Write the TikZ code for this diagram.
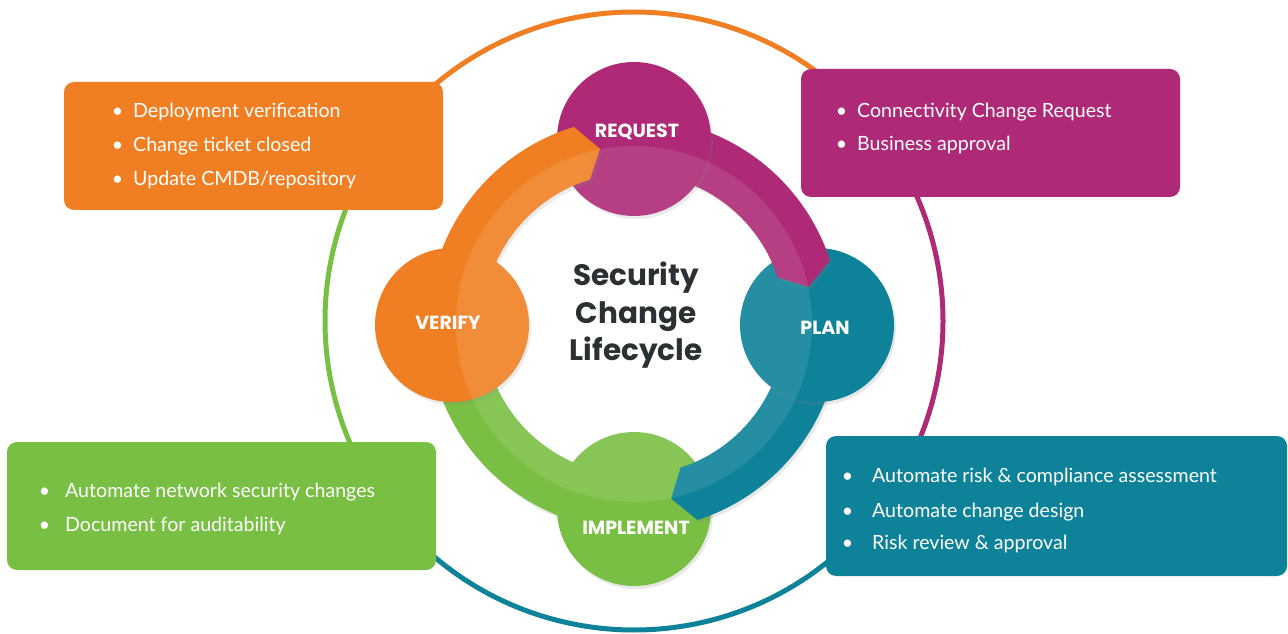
\documentclass[tikz,border=0pt]{standalone}
\usepackage{fontspec}
\setmainfont{Lato}
\newfontfamily\headfont{Poppins}
\usetikzlibrary{shadows}

\definecolor{cOrange}{HTML}{F07F23}
\definecolor{cMagenta}{HTML}{AE2A76}
\definecolor{cTeal}{HTML}{0E8299}
\definecolor{cGreen}{HTML}{79BF43}
\definecolor{cTitle}{HTML}{2B3033}

% bullet hung to the left of a line, #1 = gap to the text
\newcommand\itm[1]{\makebox[0pt][r]{\textbullet\hspace{#1pt}}}

% curved band of the cycle, centred on the scope origin:
% #1 colour, #2 start angle, #3 end angle, #4 angle of the chevron tip
\newcommand\cycleband[4]{%
  \fill[#1, softshadow] (#2:206) arc[start angle=#2, end angle=#3, radius=206]
    -- (#4:178.5) -- (#3:151) arc[start angle=#3, end angle=#2, radius=151] -- cycle;}

\begin{document}
\begin{tikzpicture}[x=1pt, y=1pt,
  ring/.style={line width=5pt},
  softshadow/.style={drop shadow={opacity=0.18, shadow xshift=2pt, shadow yshift=-3pt}},
  infobox/.style={rounded corners=10pt, inner sep=0pt},
  stage/.style={circle, minimum size=154pt, inner sep=0pt, softshadow},
  stagelabel/.style={text=white, anchor=base, inner sep=0pt, font=\headfont\bfseries\fontsize{19}{19}\selectfont},
  titleline/.style={text=cTitle, anchor=base, inner sep=0pt, font=\headfont\bfseries\fontsize{29.5}{29.5}\selectfont},
  boxline/.style={text=white, anchor=base west, inner sep=0pt, font=\fontsize{19.6}{19.6}\selectfont},
]
\useasboundingbox (0,0) rectangle (1288,633);

% outer ring, one colour per quarter
\begin{scope}[shift={(634,312)}]
  \draw[ring, cOrange]  (45:309)   arc[start angle=45,   end angle=135,  radius=309];
  \draw[ring, cMagenta] (-45:309)  arc[start angle=-45,  end angle=45,   radius=309];
  \draw[ring, cTeal]    (-135:309) arc[start angle=-135, end angle=-45,  radius=309];
  \draw[ring, cGreen]   (135:309)  arc[start angle=135,  end angle=225,  radius=309];
\end{scope}

% information boxes
\node[infobox, fill=cOrange,  minimum width=379, minimum height=128] (verifybox)  at (253.5,487) {};
\node[infobox, fill=cMagenta, minimum width=379, minimum height=128] (requestbox) at (990.5,500) {};
\node[infobox, fill=cGreen,   minimum width=429, minimum height=128] (implbox)    at (221.5,127) {};
\node[infobox, fill=cTeal,    minimum width=461, minimum height=140] (planbox)    at (1056.5,127) {};

% cycle: bands and stage circles, stacked so each band tip lies on the next stage
\begin{scope}[shift={(634,309)}]
  \fill[cGreen, softshadow] (-90:206) arc[start angle=-90, end angle=-180, radius=206]
    -- (180:151) arc[start angle=180, end angle=270, radius=151] -- cycle;
\end{scope}
\node[stage, fill=cGreen] (implement) at (634,124) {};
\begin{scope}[shift={(634,309)}]
  \cycleband{cTeal}{0}{-72}{-78}
\end{scope}
\node[stage, fill=cTeal] (plan) at (817,308) {};
\begin{scope}[shift={(634,309)}]
  \cycleband{cMagenta}{90}{18}{12}
\end{scope}
\node[stage, fill=cMagenta] (request) at (634,494) {};
\begin{scope}[shift={(634,309)}]
  \cycleband{cOrange}{180}{107}{101}
\end{scope}
\node[stage, fill=cOrange] (verify) at (452,308) {};

% light sheen over the inner half of the cycle
\fill[white, opacity=0.1] (634,309) circle[radius=178];

% stage labels
\node[stagelabel] (requestlabel)   at (637,495) {REQUEST};
\node[stagelabel] (planlabel)      at (825,299) {PLAN};
\node[stagelabel] (implementlabel) at (636,99)  {IMPLEMENT};
\node[stagelabel] (verifylabel)    at (448,304) {VERIFY};

% centre title
\node[titleline] (title1) at (636,348) {Security};
\node[titleline] (title2) at (636,310) {Change};
\node[titleline] (title3) at (636,273) {Lifecycle};

% box contents
\node[boxline] (v1) at (133,515) {\itm{10}Deployment verification};
\node[boxline] (v2) at (133,481) {\itm{10}Change ticket closed};
\node[boxline] (v3) at (133,447) {\itm{10}Update CMDB/repository};

\node[boxline] (r1) at (857,515) {\itm{10}Connectivity Change Request};
\node[boxline] (r2) at (857,482) {\itm{10}Business approval};

\node[boxline] (i1) at (65,136) {\itm{15}Automate network security changes};
\node[boxline] (i2) at (65,102) {\itm{15}Document for auditability};

\node[boxline] (p1) at (872,151) {\itm{19}Automate risk \& compliance assessment};
\node[boxline] (p2) at (872,116) {\itm{19}Automate change design};
\node[boxline] (p3) at (872,84)  {\itm{19}Risk review \& approval};
\end{tikzpicture}
\end{document}
